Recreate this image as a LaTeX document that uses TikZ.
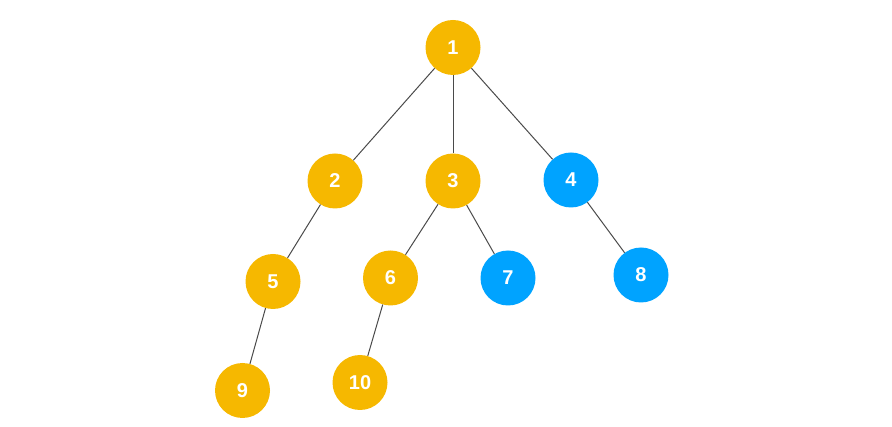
\documentclass[tikz,border=0pt]{standalone}
\usepackage{fontspec}
\setmainfont{Liberation Sans}
\definecolor{orn}{HTML}{F6B800}
\definecolor{blu}{HTML}{00A3FF}
\definecolor{edg}{HTML}{4A4A4A}
\tikzset{
  vtx/.style={circle, minimum size=55pt, inner sep=0pt, text=white, font=\bfseries\fontsize{20}{20}\selectfont},
  ov/.style={vtx, fill=orn},
  bv/.style={vtx, fill=blu},
  edge/.style={draw=edg, line width=1pt}
}
\begin{document}
\begin{tikzpicture}[x=1pt,y=-1pt]
\useasboundingbox (0,0) rectangle (892,427);
\node[ov] (n1) at (453,47.5) {1};
\node[ov] (n2) at (335,181) {2};
\node[ov] (n3) at (453,181) {3};
\node[bv] (n4) at (571,180) {4};
\node[ov] (n5) at (273,281.5) {5};
\node[ov] (n6) at (390.5,278) {6};
\node[bv] (n7) at (508,278) {7};
\node[bv] (n8) at (641,275) {8};
\node[ov] (n9) at (242.5,390.5) {9};
\node[ov] (n10) at (360,382.5) {10};
\draw[edge] (n1) -- (n2);
\draw[edge] (n1) -- (n3);
\draw[edge] (n1) -- (n4);
\draw[edge] (n2) -- (n5);
\draw[edge] (n3) -- (n6);
\draw[edge] (n3) -- (n7);
\draw[edge] (n4) -- (n8);
\draw[edge] (n5) -- (n9);
\draw[edge] (n6) -- (n10);
\end{tikzpicture}
\end{document}
